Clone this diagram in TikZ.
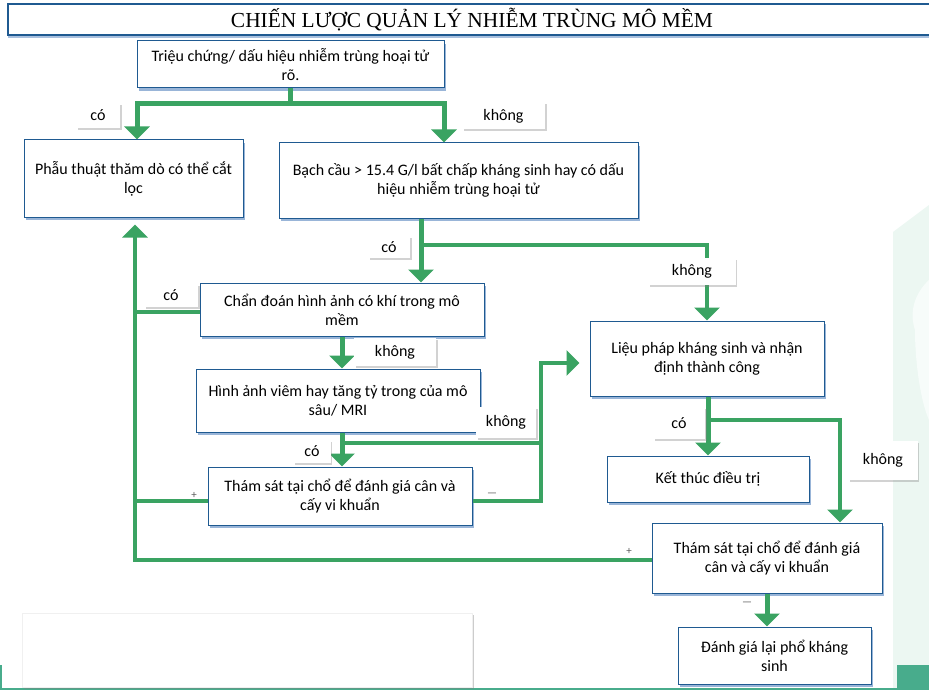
\documentclass[tikz,border=0pt]{standalone}
\usepackage{fontspec}
\setmainfont{Carlito}
\newfontfamily\titlefont{Liberation Serif}
\usetikzlibrary{arrows.meta,calc,shadows}
\definecolor{flowgreen}{RGB}{58,163,98}
\definecolor{boxblue}{RGB}{31,90,145}
\definecolor{shadowblue}{RGB}{110,150,200}
\definecolor{mintbg}{RGB}{236,247,242}
\definecolor{tealbar}{RGB}{72,172,140}
\definecolor{signgray}{RGB}{90,90,90}
\tikzset{
  box/.style={draw=boxblue, line width=1pt, fill=white, align=center, inner sep=3pt,
    font=\fontsize{16}{19}\selectfont,
    drop shadow={shadow xshift=1.5pt, shadow yshift=-3pt, fill=shadowblue, opacity=0.7}},
  lbl/.style={fill=white, align=center, inner sep=2pt, font=\fontsize{16}{18}\selectfont,
    drop shadow={shadow xshift=1.5pt, shadow yshift=-2pt, fill=gray, opacity=0.35}},
  signlbl/.style={text=signgray, inner sep=0pt, font=\fontsize{11}{12}\selectfont},
  stem/.style={draw=flowgreen, line width=5.5pt},
  flow/.style={draw=flowgreen, line width=5pt, -{Triangle[width=25pt,length=13pt]}},
  flowthin/.style={draw=flowgreen, line width=3.5pt, -{Triangle[width=25pt,length=13pt]}},
  thinline/.style={draw=flowgreen, line width=3.5pt},
}
\begin{document}
\begin{tikzpicture}[x=1pt,y=-1pt]
\useasboundingbox (0,0) rectangle (929,690);
\fill[white] (0,0) rectangle (929,690);
% background decoration
\fill[mintbg] (893,232) -- (929,205) -- (929,690) -- (893,690) -- cycle;
\fill[white!60!mintbg] (915,330) .. controls (905,300) and (929,280) .. (929,280) -- (929,420) .. controls (920,400) and (915,360) .. (915,330);
\fill[tealbar] (897,665) rectangle (929,690);
\fill[tealbar] (0,687.5) rectangle (929,690);
\fill[tealbar] (0,665) rectangle (2,690);

% title
\draw[draw=boxblue, line width=1.2pt, fill=white,
  drop shadow={shadow xshift=0pt, shadow yshift=-3pt, fill=shadowblue, opacity=0.6}]
  (8,4) rectangle (945,35);
\node[font=\titlefont\fontsize{21.4}{24}\selectfont] (title) at (472,20) {CHIẾN LƯỢC QUẢN LÝ NHIỄM TRÙNG MÔ MỀM};

% boxes
\node[box, minimum width=307pt, minimum height=47pt] (b1) at (290.5,64.5)
  {Triệu chứng/ dấu hiệu nhiễm trùng hoại tử\\rõ.};
\node[box, minimum width=219pt, minimum height=77pt] (b2) at (133.5,178.5)
  {Phẫu thuật thăm dò có thể cắt\\lọc};
\node[box, minimum width=359pt, minimum height=75pt] (b3) at (458.5,180.5)
  {Bạch cầu > 15.4 G/l bất chấp kháng sinh hay có dấu\\hiệu nhiễm trùng hoại tử};
\node[box, minimum width=284pt, minimum height=53pt] (b4) at (342,309.5)
  {Chẩn đoán hình ảnh có khí trong mô\\mềm};
\node[box, minimum width=284pt, minimum height=63pt] (b5) at (338,400.5)
  {Hình ảnh viêm hay tăng tỷ trong của mô\\sâu/ MRI};
\node[box, minimum width=264pt, minimum height=58pt] (b6) at (340,496)
  {Thám sát tại chổ để đánh giá cân và\\cấy vi khuẩn};
\node[box, minimum width=234pt, minimum height=75pt] (b7) at (707,358.5)
  {Liệu pháp kháng sinh và nhận\\định thành công};
\node[box, minimum width=202pt, minimum height=46pt] (b8) at (708,479)
  {Kết thúc điều trị};
\node[box, minimum width=230pt, minimum height=70pt] (b9) at (767,558)
  {Thám sát tại chổ để đánh giá\\cân và cấy vi khuẩn};
\node[box, minimum width=193pt, minimum height=57pt] (b10) at (774.5,655.5)
  {Đánh giá lại phổ kháng\\sinh};
\node[fill=white, draw=gray!12, minimum width=450pt, minimum height=74pt, inner sep=0pt,
  drop shadow={shadow xshift=1.5pt, shadow yshift=-2pt, fill=gray, opacity=0.4}] (blank) at (247,650) {};

% coordinates
\coordinate (s1) at (290.5,104);
\coordinate (j3) at (421,245);
\coordinate (j5) at (342,443);
\coordinate (rv) at (541,363);
\coordinate (j7) at (708,420);
\coordinate (lv) at (135,560);

% connectors
\draw[stem] (b1.south) -- (s1);
\draw[flow] (s1) -| ([xshift=3.5pt]b2.north);
\draw[flow] (s1) -| ([xshift=-14.5pt]b3.north);

\draw[flow] (b3.south -| j3) -- (b4.north -| j3);
\draw[flowthin] (j3) -| (b7.north);

\draw[flow] (b4.south) -- (b4.south |- b5.north);
\draw[flow] (b5.south -| j5) -- (b6.north -| j5);
\draw[thinline] (j5) -- (j5 -| rv);
\draw[flowthin] (b6.east |- 0,501) -| (rv) -- ([xshift=-10pt]b7.west |- rv);

\draw[thinline] (b4.west |- 0,312) -- (lv |- 0,312);
\draw[thinline] (b6.west |- 0,501) -- (lv |- 0,501);
\draw[flowthin] (b9.west |- lv) -- (lv) -- ([yshift=-7pt]b2.south -| lv);

\draw[flow] (b7.south -| j7) -- (b8.north -| j7);
\draw[flowthin] (j7) -| ([xshift=73pt]b9.north);
\draw[flow] (b9.south) -- (b9.south |- b10.north);

% labels
\node[lbl, minimum width=44pt, minimum height=25pt] (l1) at (98,115.5) {có};
\node[lbl, minimum width=83pt, minimum height=27pt] (l2) at (503.5,116) {không};
\node[lbl, minimum width=42pt, minimum height=22pt] (l3) at (389,247) {có};
\node[lbl, minimum width=87pt, minimum height=27pt] (l4) at (692,271) {không};
\node[lbl, minimum width=54pt, minimum height=23pt] (l5) at (171,295) {có};
\node[lbl, minimum width=82pt, minimum height=28pt] (l6) at (395,352) {không};
\node[lbl, minimum width=60pt, minimum height=31pt] (l7) at (506,422) {không};
\node[lbl, minimum width=37pt, minimum height=23pt] (l8) at (312,451) {có};
\node[lbl, minimum width=52pt, minimum height=32pt] (l9) at (679,423) {có};
\node[lbl, minimum width=69pt, minimum height=39pt] (l10) at (883,460) {không};

% signs
\node[signlbl] (p1) at (194,495) {+};
\node[signlbl] (m1) at (492,495) {—};
\node[signlbl] (p2) at (629,551) {+};
\node[signlbl] (m2) at (747,604) {—};
\end{tikzpicture}
\end{document}
